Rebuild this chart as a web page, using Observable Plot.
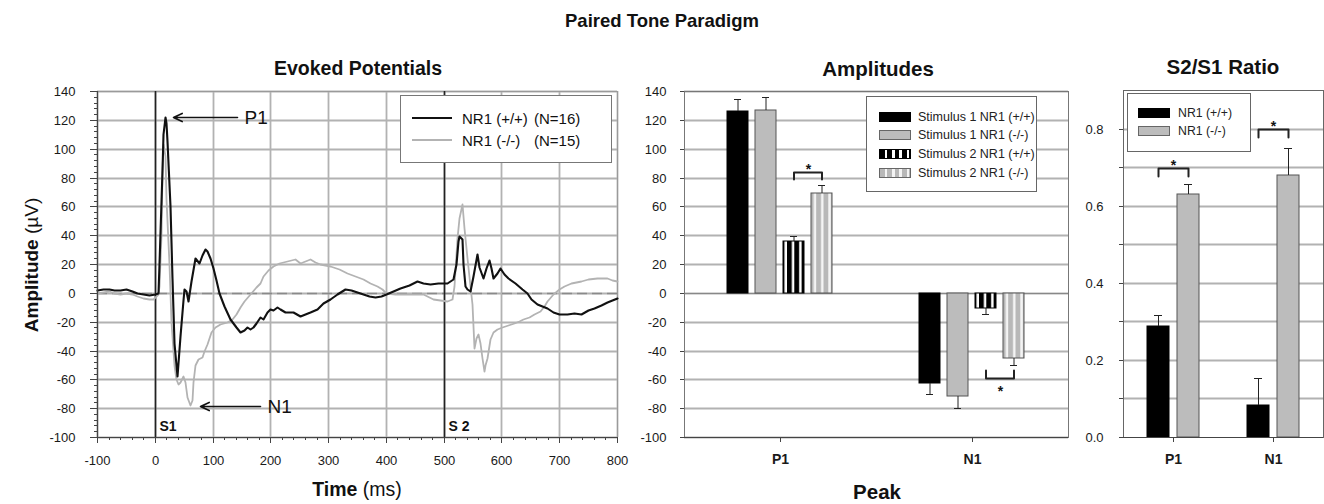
<!DOCTYPE html>
<html>
<head>
<meta charset="utf-8">
<script src="https://cdn.jsdelivr.net/npm/d3@7"></script>
<script src="https://cdn.jsdelivr.net/npm/@observablehq/plot@0.6"></script>
<style>
  body { margin: 0; background: #fff; font-family: "Liberation Sans", Arial, Helvetica, sans-serif; }
  #wrap { position: relative; width: 1324px; height: 504px; overflow: hidden; background: #fff; }
  #wrap > svg { position: absolute; top: 0; }
  .t { position: absolute; white-space: pre; color: #111; line-height: 1; }
  .c { transform: translate(-50%, -50%); }
  .box { position: absolute; background: #fff; border: 1px solid #666; box-sizing: border-box; }
  .sw { position: absolute; box-sizing: border-box; }
</style>
</head>
<body>
<div id="wrap">
  <svg width="0" height="0" style="position:absolute;left:0;top:0">
    <defs>
      <pattern id="stripeK" patternUnits="userSpaceOnUse" width="7.3" height="10">
        <rect width="7.3" height="10" fill="#ffffff"></rect>
        <rect width="4.8" height="10" fill="#000000"></rect>
      </pattern>
      <pattern id="stripeG" patternUnits="userSpaceOnUse" width="7.3" height="10">
        <rect width="7.3" height="10" fill="#f4f4f4"></rect>
        <rect width="4.8" height="10" fill="#b8b8b8"></rect>
      </pattern>
    </defs>
  </svg>
</div>
<script>
// ---------------- DATA ----------------
// Evoked potentials: [time (ms), amplitude (µV)]
const wtTrace = [[-100,2],[-90,3],[-80,3],[-70,2],[-60,2],[-50,2.5],[-40,1.5],[-30,0],[-20,-1],[-10,-1.5],[0,-1],[5,0],[8,20],[12,85],[15,110],[18,122],[20,118],[22,105],[26,60],[30,10],[34,-35],[39,-58],[44,-30],[48,-5],[51,3],[54,1],[58,-5.6],[63,8],[69,24.5],[77,21],[82,26],[87,30.7],[90,29],[95,24],[100,17],[106,9],[112,0],[120,-9],[130,-18],[140,-24],[147,-27.5],[155,-26],[160,-24],[165,-25],[170,-24],[176,-20.6],[182,-17],[188,-18],[194,-13],[199,-11],[205,-12],[212,-10],[217,-11],[225,-13],[231,-13.6],[240,-13],[251,-16],[260,-15],[269,-13.6],[280,-11],[292,-7],[303,-4],[315,-1],[329,2.6],[340,2],[355,0],[370,-2],[381,-3.2],[391,-2.5],[401,-0.5],[412,1.5],[425,3.2],[440,5.5],[453,7.9],[465,7],[477,6],[490,6.5],[506,7],[517,9.5],[521,20],[524,36],[526,39.6],[531,37],[534,20],[537,5],[541,3],[546,1.4],[551,12],[557,27],[562,18],[568,10.2],[573,17],[578,22.7],[582,17],[586,10.6],[592,14],[598,17],[605,13],[612,10.2],[624,7],[635,3],[644,0.2],[652,-4],[661,-7.9],[670,-9],[679,-10.6],[690,-13],[699,-14.8],[713,-14.4],[725,-14],[737,-14.4],[750,-12],[760,-10.6],[772,-8.5],[783,-6.7],[792,-5],[800,-3.7]];
const koTrace = [[-100,0],[-90,0.5],[-80,1],[-70,0],[-60,-0.5],[-50,0],[-40,-1],[-30,-2.5],[-20,-3.5],[-10,-4],[-3,-4.5],[0,-3],[5,-1],[8,5],[10,40],[13,85],[15,103],[17,95],[20,65],[24,20],[28,-20],[33,-50],[37,-60],[40,-63],[44,-62],[48,-58],[52,-62],[56,-72],[61,-78],[64,-74],[67,-62],[70,-50],[75,-46],[81,-44.7],[86,-40],[90,-35.6],[98,-27.5],[105,-24],[113,-21.8],[125,-20],[133,-18.3],[140,-15],[147,-10],[155,-6],[165,-1],[175,4],[182,7],[188,11.8],[196,15.5],[205,18.8],[215,20.5],[228,22.2],[243,23.4],[251,21],[260,22],[269,23.4],[278,21.5],[286,20],[295,19.5],[303,18.8],[318,16.5],[332,14],[346,12],[361,9.5],[373,7],[384,5],[393,2.5],[401,0.2],[415,-0.5],[436,-0.5],[450,-1],[465,-1],[474,-3],[482,-4.4],[494,-4.8],[506,-5.6],[514,-4],[518,5],[523,38],[527,52],[531,61.6],[535,45],[540,24.5],[545,5],[549,-8],[552,-38],[556,-31],[559,-28.7],[563,-35],[566,-45],[569,-54],[572,-50],[575,-45],[580,-32],[586,-27.5],[593,-25],[601,-23.5],[611,-22],[621,-20.6],[630,-19.5],[638,-18.3],[647,-16.5],[656,-14.8],[667,-12.5],[673,-9],[679,-5.6],[690,-1],[700,3],[708,5],[720,7],[737,8.3],[750,9.5],[765,10.2],[775,10.5],[783,10.2],[792,9],[800,8.3]];
const traceNames = ["NR1 (+/+)", "NR1 (-/-)"];
const traceN = ["(N=16)", "(N=15)"];
const stimMarks = [{t: 0, label: "S1"}, {t: 500, label: "S 2"}];
const peakArrows = [{label: "P1", from: 142, to: 31, v: 122}, {label: "N1", from: 182, to: 78, v: -78.5}];
const timeTicks = [-100, 0, 100, 200, 300, 400, 500, 600, 700, 800];
const ampTicks = [-100, -80, -60, -40, -20, 0, 20, 40, 60, 80, 100, 120, 140];

// Amplitudes
const peaks = ["P1", "N1"];
const ampSeries = ["Stimulus 1 NR1 (+/+)", "Stimulus 1 NR1 (-/-)", "Stimulus 2 NR1 (+/+)", "Stimulus 2 NR1 (-/-)"];
const p1Amp = [126, 126.6, 35.8, 69.4];
const p1AmpErr = [8.7, 9.2, 3.5, 5.1];
const n1Amp = [-62.5, -71.8, -10.4, -45.1];
const n1AmpErr = [7.5, 8.1, 4.2, 4.9];
const ampBrackets = [{peak: "P1", a: 2, b: 3, top: 83.7, leg: 79, star: 86}, {peak: "N1", a: 2, b: 3, top: -59.3, leg: -53.5, star: -68}];

// S2/S1 ratio
const ratioSeries = ["NR1 (+/+)", "NR1 (-/-)"];
const p1Ratio = [0.2875, 0.63];
const p1RatioErr = [0.029, 0.026];
const n1Ratio = [0.084, 0.68];
const n1RatioErr = [0.07, 0.07];
const ratioBrackets = [{peak: "P1", a: 0, b: 1, top: 0.697, leg: 0.677, star: 0.705}, {peak: "N1", a: 0, b: 1, top: 0.798, leg: 0.777, star: 0.806}];
const ratioTicks = [0, 0.2, 0.4, 0.6, 0.8];
const ratioGrid = [0.1, 0.2, 0.3, 0.4, 0.5, 0.6, 0.7, 0.8];

// ---------------- BUILD ----------------
const FONT = '"Liberation Sans", Arial, Helvetica, sans-serif';
const wrap = document.getElementById("wrap");
const fmt = d => String(d);
const baseStyle = {fontFamily: FONT, fontSize: "13px", color: "#1a1a1a", background: "none", overflow: "visible"};
const GRID = "#b2b2b2";
const GRIDW = 1.8;

const wtData = wtTrace.map(([t, v]) => ({t, v}));
const koData = koTrace.map(([t, v]) => ({t, v}));

const evoked = Plot.plot({
  width: 640, height: 504,
  marginLeft: 97, marginRight: 23, marginTop: 91, marginBottom: 67,
  style: baseStyle,
  x: {domain: [-100, 800], label: null, round: true},
  y: {domain: [-100, 140], label: null, round: true},
  marks: [
    Plot.ruleX(timeTicks, {x: d => d, stroke: GRID, strokeWidth: GRIDW}),
    Plot.ruleY(ampTicks, {y: d => d, stroke: GRID, strokeWidth: GRIDW}),
    Plot.frame({stroke: "#9a9a9a", fill: "none"}),
    Plot.ruleY([0], {stroke: "#8a8a8a", strokeWidth: 1.5, strokeDasharray: "10,5"}),
    Plot.ruleX(stimMarks, {x: "t", stroke: "#222", strokeWidth: 1.6}),
    Plot.line(koData, {x: "t", y: "v", stroke: "#b3b3b3", strokeWidth: 1.8}),
    Plot.line(wtData, {x: "t", y: "v", stroke: "#111", strokeWidth: 2.1}),
    Plot.text(stimMarks, {x: "t", y: () => -100, text: "label", textAnchor: "start", dx: 4, dy: -11, fontWeight: "bold", fontSize: 14, fill: "#111"}),
    Plot.arrow(peakArrows, {x1: "from", y1: "v", x2: "to", y2: "v", stroke: "#111", strokeWidth: 1.6, headLength: 9, headAngle: 50}),
    Plot.text(peakArrows, {x: "from", y: "v", text: "label", textAnchor: "start", dx: 7, fontSize: 19, fill: "#111"}),
    Plot.axisY(d3.range(-100, 141, 4), {tickSize: 3, tickFormat: () => "", label: null, stroke: "#444"}),
    Plot.axisY(ampTicks, {tickSize: 7, tickPadding: 15, tickFormat: fmt, label: null, stroke: "#444"}),
    Plot.axisX(d3.range(-100, 801, 20), {tickSize: 3, tickFormat: () => "", label: null, stroke: "#444"}),
    Plot.axisX(timeTicks, {tickSize: 6, tickPadding: 12, tickFormat: fmt, label: null, stroke: "#444"}),
    Plot.ruleX([-100], {stroke: "#444", strokeWidth: 1.2}),
    Plot.ruleY([-100], {stroke: "#444", strokeWidth: 1.2})
  ]
});
evoked.style.left = "0px";
wrap.appendChild(evoked);

// Amplitude data table
const ampData = [];
[p1Amp, n1Amp].forEach((vals, i) => vals.forEach((v, j) => ampData.push({
  peak: peaks[i], series: ampSeries[j], value: v, err: [p1AmpErr, n1AmpErr][i][j]
})));
const errEnd = d => d.value + Math.sign(d.value) * d.err;
const bracketPts = (brs, ser) => brs.flatMap(b => [
  {peak: b.peak, s: ser[b.a], y: b.leg}, {peak: b.peak, s: ser[b.a], y: b.top},
  {peak: b.peak, s: ser[b.b], y: b.top}, {peak: b.peak, s: ser[b.b], y: b.leg}
]);
const ampStroke = ["#000", "#555", "#000", "#555"];

const amps = Plot.plot({
  width: 430, height: 504,
  marginLeft: 43, marginRight: 2, marginTop: 91, marginBottom: 67,
  style: baseStyle,
  fx: {domain: peaks, padding: 0, label: null},
  x: {domain: ampSeries, paddingInner: 0.24, paddingOuter: 1.44, axis: null, label: null},
  y: {domain: [-100, 140], label: null, round: true},
  color: {type: "ordinal", domain: ampSeries, range: ["#000000", "#bcbcbc", "url(#stripeK)", "url(#stripeG)"]},
  marks: [
    Plot.ruleY(ampTicks, {y: d => d, stroke: GRID, strokeWidth: GRIDW}),
    Plot.ruleY([0], {stroke: "#888"}),
    Plot.barY(ampData, {fx: "peak", x: "series", y: "value", fill: "series", stroke: d => ampStroke[ampSeries.indexOf(d.series)], strokeWidth: 1}),
    Plot.ruleX(ampData, {fx: "peak", x: "series", y1: "value", y2: errEnd, stroke: "#222", strokeWidth: 1}),
    Plot.tickY(ampData, {fx: "peak", x: "series", y: errEnd, stroke: "#222", strokeWidth: 1, insetLeft: 7, insetRight: 7}),
    Plot.line(bracketPts(ampBrackets, ampSeries), {fx: "peak", x: "s", y: "y", z: "peak", stroke: "#222", strokeWidth: 2}),
    Plot.text(ampBrackets, {fx: "peak", x: d => ampSeries[d.a], y: "star", text: () => "*", dx: 14.5, fontSize: 14, fontWeight: "bold", fill: "#111"}),
    Plot.axisY(ampTicks, {tickSize: 4, tickPadding: 14, tickFormat: fmt, label: null, stroke: "#444"}),
    Plot.axisFx({anchor: "bottom", tickSize: 5, tickPadding: 12, label: null, fontWeight: "bold", fontSize: 14, stroke: "#444"}),
    Plot.frame({facet: "super", stroke: "#777", fill: "none"}),
    Plot.ruleY([-100], {stroke: "#444", strokeWidth: 1.2})
  ]
});
amps.style.left = "640px";
wrap.appendChild(amps);

// Ratio
const ratioData = [];
[p1Ratio, n1Ratio].forEach((vals, i) => vals.forEach((v, j) => ratioData.push({
  peak: peaks[i], series: ratioSeries[j], value: v, err: [p1RatioErr, n1RatioErr][i][j]
})));
const ratioStroke = ["#000", "#555"];

const ratio = Plot.plot({
  width: 254, height: 504,
  marginLeft: 53, marginRight: 1, marginTop: 90, marginBottom: 67,
  style: baseStyle,
  fx: {domain: peaks, padding: 0, label: null},
  x: {domain: ratioSeries, paddingInner: 0.267, paddingOuter: 0.8, axis: null, label: null},
  y: {domain: [0, 0.9], label: null, round: true},
  color: {type: "ordinal", domain: ratioSeries, range: ["#000000", "#bcbcbc"]},
  marks: [
    Plot.ruleY(ratioGrid, {y: d => d, stroke: GRID, strokeWidth: GRIDW}),
    Plot.barY(ratioData, {fx: "peak", x: "series", y: "value", fill: "series", stroke: d => ratioStroke[ratioSeries.indexOf(d.series)], strokeWidth: 1}),
    Plot.ruleX(ratioData, {fx: "peak", x: "series", y1: "value", y2: d => d.value + d.err, stroke: "#222", strokeWidth: 1}),
    Plot.tickY(ratioData, {fx: "peak", x: "series", y: d => d.value + d.err, stroke: "#222", strokeWidth: 1, insetLeft: 7, insetRight: 7}),
    Plot.line(bracketPts(ratioBrackets, ratioSeries), {fx: "peak", x: "s", y: "y", z: "peak", stroke: "#222", strokeWidth: 2}),
    Plot.text(ratioBrackets, {fx: "peak", x: d => ratioSeries[d.a], y: "star", text: () => "*", dx: 15, fontSize: 14, fontWeight: "bold", fill: "#111"}),
    Plot.axisY(ratioGrid, {tickSize: 4, tickFormat: () => "", label: null, stroke: "#444"}),
    Plot.axisY(ratioTicks, {tickSize: 4, tickPadding: 16, tickFormat: d => d.toFixed(1), label: null, stroke: "#444"}),
    Plot.axisY(ratioGrid, {anchor: "right", tickSize: 3, tickFormat: () => "", label: null, stroke: "#666"}),
    Plot.axisFx({anchor: "bottom", tickSize: 5, tickPadding: 12, label: null, fontWeight: "bold", fontSize: 14, stroke: "#444"}),
    Plot.frame({facet: "super", stroke: "#666", fill: "none"}),
    Plot.ruleY([0], {stroke: "#444", strokeWidth: 1.2})
  ]
});
ratio.style.left = "1070px";
wrap.appendChild(ratio);

// ---------------- TEXT & LEGENDS ----------------
function put(html, x, y, css = {}, centered = true) {
  const d = document.createElement("div");
  d.className = "t" + (centered ? " c" : "");
  d.innerHTML = html;
  d.style.left = x + "px";
  d.style.top = y + "px";
  Object.assign(d.style, css);
  wrap.appendChild(d);
  return d;
}
function box(x, y, w, h, css = {}) {
  const d = document.createElement("div");
  d.className = "box";
  Object.assign(d.style, {left: x + "px", top: y + "px", width: w + "px", height: h + "px"}, css);
  wrap.appendChild(d);
  return d;
}
function swatch(x, y, w, h, bg, border) {
  const d = document.createElement("div");
  d.className = "sw";
  Object.assign(d.style, {left: x + "px", top: y + "px", width: w + "px", height: h + "px", background: bg, border: "1px solid " + border});
  wrap.appendChild(d);
}

put("Paired Tone Paradigm", 662, 21, {fontSize: "18.5px", fontWeight: "bold"});
put("Evoked Potentials", 358, 69, {fontSize: "19.5px", fontWeight: "bold"});
put("Amplitudes", 878, 69, {fontSize: "20.5px", fontWeight: "bold"});
put("S2/S1 Ratio", 1223, 67, {fontSize: "20.5px", fontWeight: "bold"});
put('<b>Amplitude</b> (µV)', 31, 265, {fontSize: "19px", transform: "translate(-50%,-50%) rotate(-90deg)"});
put('<b>Time</b> (ms)', 357, 490, {fontSize: "19.5px"});
put('<b>Peak</b>', 877, 492, {fontSize: "20.5px"});

// Evoked legend
box(400, 95, 212, 68, {border: "1px solid #777"});
const traceColors = ["#111", "#b3b3b3"];
traceNames.forEach((n, i) => {
  const y = 118 + i * 22;
  const ln = document.createElement("div");
  Object.assign(ln.style, {position: "absolute", left: "412px", top: (y - 1) + "px", width: "40px", height: (i ? 1.6 : 2.2) + "px", background: traceColors[i]});
  wrap.appendChild(ln);
  put(n, 462, y, {fontSize: "15px", transform: "translateY(-50%)"}, false);
  put(traceN[i], 534, y, {fontSize: "15px", transform: "translateY(-50%)"}, false);
});

// Amplitude legend
box(866, 96, 171, 96, {border: "1px solid #666"});
const ampSwatch = [
  ["#000", "#000"], ["#bcbcbc", "#666"],
  ["repeating-linear-gradient(90deg,#000 0 4.8px,#fff 4.8px 7.3px)", "#000"],
  ["repeating-linear-gradient(90deg,#b8b8b8 0 4.8px,#f4f4f4 4.8px 7.3px)", "#666"]
];
ampSeries.forEach((s, i) => {
  const y = 116.7 + i * 18.7;
  swatch(879, y - 5, 32, 10, ampSwatch[i][0], ampSwatch[i][1]);
  put(s, 918, y, {fontSize: "12.5px", transform: "translateY(-50%)", color: "#222"}, false);
});

// Ratio legend
box(1127, 93, 124, 59, {border: "1px solid #666"});
const ratioSwatch = [["#000", "#000"], ["#bcbcbc", "#666"]];
ratioSeries.forEach((s, i) => {
  const y = 112.7 + i * 18.3;
  swatch(1138, y - 5, 32, 10, ratioSwatch[i][0], ratioSwatch[i][1]);
  put(s, 1178, y, {fontSize: "12.3px", transform: "translateY(-50%)", color: "#222"}, false);
});
</script>
</body>
</html>
